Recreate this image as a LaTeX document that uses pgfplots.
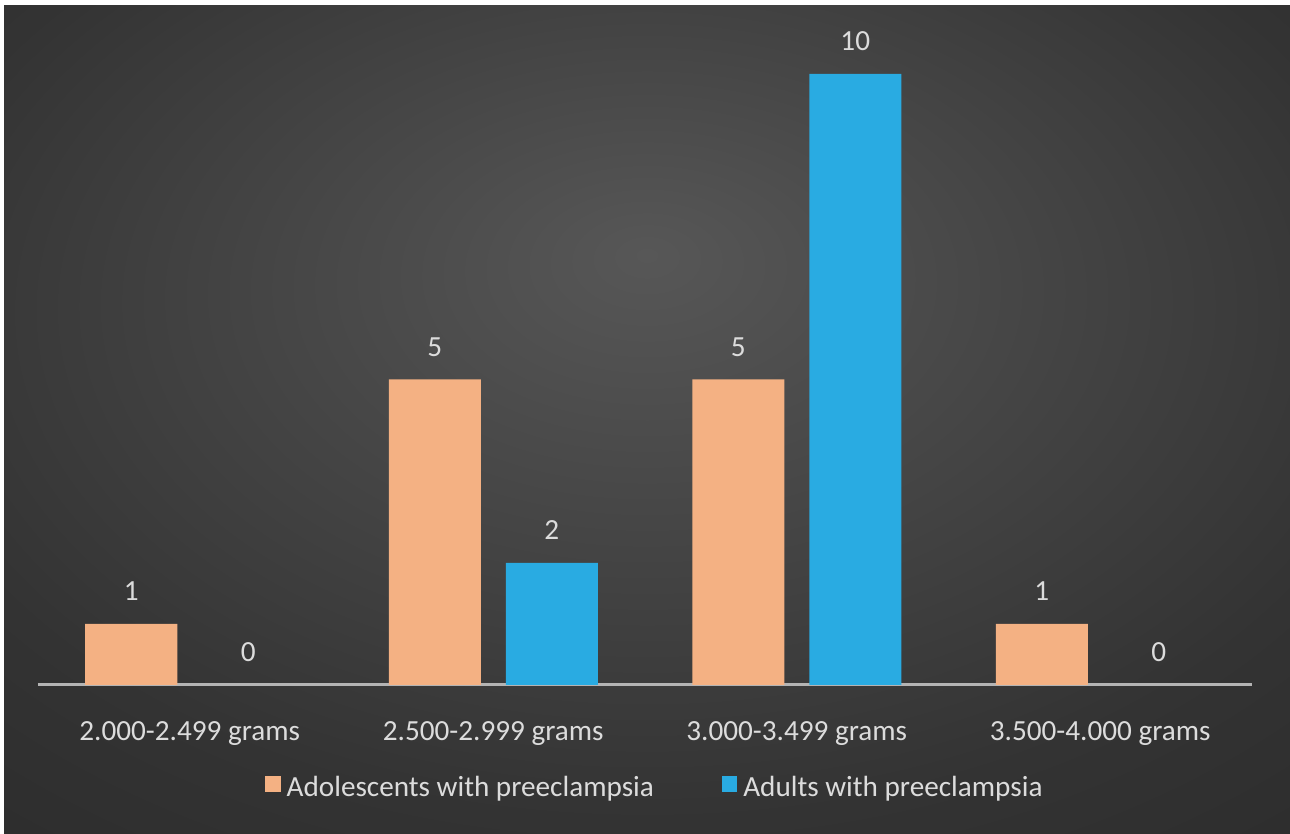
\documentclass[border=0pt]{standalone}
\usepackage{pgfplots}
\pgfplotsset{compat=1.18}
\usepackage{fontspec}
\setmainfont{Carlito}
\definecolor{orangebar}{HTML}{F4B183}
\definecolor{bluebar}{HTML}{29ABE2}
\definecolor{txt}{HTML}{DCDCDC}
\definecolor{bgin}{HTML}{575757}
\definecolor{bgmid}{HTML}{333333}
\definecolor{bgout}{HTML}{272727}
\definecolor{axisline}{HTML}{B4B4B4}
\pgfdeclareradialshading{bgshade}{\pgfpoint{0bp}{10bp}}{color(0bp)=(bgin); color(30bp)=(bgmid); color(50bp)=(bgout); color(70bp)=(bgout)}
\begin{document}
\begin{tikzpicture}[x=1pt,y=1pt]
\fill[white] (0,0) rectangle (645,417);
\shade[shading=bgshade] (2,0) rectangle (645,414);
\begin{axis}[
  at={(19pt,74.5pt)}, anchor=south west,
  scale only axis, width=607pt, height=327.5pt,
  xmin=-0.5, xmax=3.5, ymin=0, ymax=10.72,
  ybar, bar width=46pt,
  axis y line=none,
  axis x line*=bottom,
  x axis line style={draw=axisline, line width=1.5pt, -},
  xtick={0,1,2,3},
  xticklabels={2.000-2.499 grams, 2.500-2.999 grams, 3.000-3.499 grams, 3.500-4.000 grams},
  xtick style={draw=none},
  xticklabel style={anchor=base, yshift=-23.5pt, font=\fontsize{14.6}{17}\selectfont, text=txt},
  /pgf/number format/assume math mode=true,
  nodes near coords,
  nodes near coords style={anchor=base, yshift=11.5pt, font=\fontsize{14.6}{17}\selectfont, text=txt},
  legend columns=2,
  legend style={at={(0.509,-0.157)}, anchor=center, draw=none, fill=none,
    font=\fontsize{14.6}{17}\selectfont, text=txt,
    /tikz/every even column/.append style={column sep=32pt}},
  legend image code/.code={\fill[#1] (-1pt,-2pt) rectangle (6.7pt,6pt); \path (7.7pt,0pt);},
]
\addplot[fill=orangebar, draw=none, bar shift=-29.25pt] coordinates {(0,1) (1,5) (2,5) (3,1)};
\addplot[fill=bluebar, draw=none, bar shift=29.25pt] coordinates {(1,2) (2,10)};
\addplot[fill=none, draw=none, bar shift=29.25pt, forget plot] coordinates {(0,0) (3,0)};
\legend{Adolescents with preeclampsia, Adults with preeclampsia}
\end{axis}
\end{tikzpicture}
\end{document}
